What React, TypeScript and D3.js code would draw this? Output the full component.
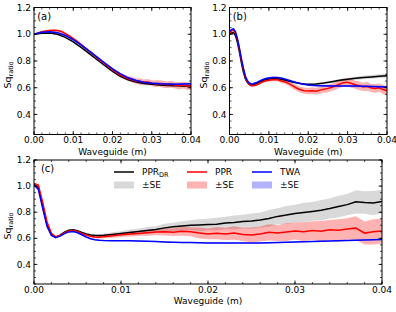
import React from 'react';
import * as d3 from 'd3';

const FONT = 'DejaVu Sans, sans-serif';

// tick labels
const X_TICKS = [0, 0.01, 0.02, 0.03, 0.04];
const Y_TICKS = [0.4, 0.6, 0.8, 1.0, 1.2];

// legend entries
const LEGEND_NAMES = ['PPR', 'PPR', 'TWA'];
const LEGEND_SUBS = ['DR', '', ''];
const SE_LABEL = '\u00b1SE';

// ---- panel (a) ----
const A_X = [0, 0.002, 0.004, 0.006, 0.008, 0.01, 0.012, 0.014, 0.016, 0.018, 0.02, 0.022, 0.024, 0.026, 0.028, 0.03, 0.032, 0.034, 0.036, 0.038, 0.04];
const A_BLACK = [1.0, 1.007, 1.009, 1.0, 0.977, 0.943, 0.902, 0.857, 0.811, 0.766, 0.722, 0.686, 0.66, 0.643, 0.632, 0.625, 0.62, 0.617, 0.615, 0.613, 0.612];
const A_BLACK_SE = [0.002, 0.002, 0.003, 0.003, 0.003, 0.004, 0.004, 0.004, 0.005, 0.005, 0.005, 0.005, 0.006, 0.006, 0.006, 0.006, 0.007, 0.007, 0.007, 0.008, 0.008];
const A_BLUE = [1.0, 1.014, 1.019, 1.012, 0.991, 0.959, 0.92, 0.876, 0.83, 0.785, 0.741, 0.703, 0.674, 0.654, 0.641, 0.634, 0.629, 0.627, 0.626, 0.627, 0.629];
const A_BLUE_SE = [0.006, 0.007, 0.007, 0.008, 0.008, 0.008, 0.009, 0.009, 0.009, 0.009, 0.009, 0.009, 0.008, 0.008, 0.008, 0.008, 0.008, 0.008, 0.008, 0.008, 0.008];
const A_RED_X = [0, 0.001, 0.002, 0.003, 0.004, 0.005, 0.006, 0.007, 0.008, 0.009, 0.01, 0.011, 0.012, 0.013, 0.014, 0.015, 0.016, 0.017, 0.018, 0.019, 0.02, 0.021, 0.022, 0.023, 0.024, 0.025, 0.026, 0.027, 0.028, 0.029, 0.03, 0.031, 0.032, 0.033, 0.034, 0.035, 0.036, 0.037, 0.038, 0.039, 0.04];
const A_RED = [1.0, 1.01, 1.018, 1.024, 1.028, 1.03, 1.028, 1.02, 1.005, 0.988, 0.968, 0.946, 0.922, 0.898, 0.874, 0.85, 0.826, 0.802, 0.78, 0.757, 0.735, 0.713, 0.695, 0.68, 0.668, 0.66, 0.65, 0.646, 0.64, 0.642, 0.634, 0.63, 0.632, 0.625, 0.622, 0.626, 0.618, 0.615, 0.62, 0.612, 0.61];
const A_RED_SE = [0.003, 0.004, 0.005, 0.006, 0.006, 0.007, 0.007, 0.008, 0.008, 0.009, 0.009, 0.01, 0.01, 0.01, 0.011, 0.011, 0.012, 0.012, 0.013, 0.013, 0.014, 0.016, 0.015, 0.019, 0.017, 0.022, 0.019, 0.025, 0.021, 0.024, 0.02, 0.026, 0.023, 0.028, 0.024, 0.027, 0.023, 0.029, 0.025, 0.028, 0.027];

// ---- panel (b) ----
const B_X = [0, 0.0005, 0.001, 0.0015, 0.002, 0.0025, 0.003, 0.0035, 0.004, 0.0045, 0.005, 0.0055, 0.006, 0.007, 0.008, 0.009, 0.01, 0.011, 0.012, 0.013, 0.014, 0.015, 0.016, 0.017, 0.018, 0.019, 0.02, 0.022, 0.024, 0.026, 0.028, 0.03, 0.032, 0.034, 0.036, 0.038, 0.04];
const B_BLACK = [1.0, 1.01, 1.012, 0.99, 0.94, 0.87, 0.79, 0.72, 0.67, 0.64, 0.625, 0.62, 0.622, 0.633, 0.648, 0.66, 0.665, 0.668, 0.667, 0.663, 0.657, 0.65, 0.643, 0.637, 0.632, 0.628, 0.626, 0.628, 0.635, 0.645, 0.655, 0.663, 0.67, 0.676, 0.681, 0.686, 0.69];
const B_BLACK_SE = [0.004, 0.004, 0.004, 0.004, 0.004, 0.004, 0.004, 0.004, 0.004, 0.004, 0.004, 0.004, 0.004, 0.005, 0.005, 0.005, 0.005, 0.005, 0.005, 0.005, 0.005, 0.005, 0.005, 0.005, 0.005, 0.005, 0.006, 0.007, 0.008, 0.009, 0.01, 0.011, 0.012, 0.013, 0.014, 0.015, 0.016];
const B_BLUE = [1.02, 1.035, 1.04, 1.02, 0.97, 0.9, 0.82, 0.75, 0.69, 0.655, 0.635, 0.628, 0.63, 0.64, 0.655, 0.667, 0.673, 0.676, 0.676, 0.672, 0.665, 0.656, 0.647, 0.638, 0.631, 0.625, 0.621, 0.616, 0.614, 0.613, 0.613, 0.613, 0.612, 0.611, 0.609, 0.607, 0.605];
const B_BLUE_SE = [0.008, 0.008, 0.008, 0.008, 0.008, 0.008, 0.008, 0.008, 0.008, 0.008, 0.008, 0.008, 0.008, 0.008, 0.008, 0.008, 0.008, 0.008, 0.008, 0.008, 0.008, 0.008, 0.008, 0.008, 0.008, 0.008, 0.008, 0.008, 0.008, 0.008, 0.008, 0.008, 0.008, 0.008, 0.008, 0.008, 0.008];
const B_RED_X = [0, 0.0005, 0.001, 0.0015, 0.002, 0.0025, 0.003, 0.0035, 0.004, 0.0045, 0.005, 0.0055, 0.006, 0.007, 0.008, 0.009, 0.01, 0.011, 0.012, 0.013, 0.014, 0.015, 0.016, 0.017, 0.018, 0.019, 0.02, 0.021, 0.022, 0.023, 0.024, 0.025, 0.026, 0.027, 0.028, 0.029, 0.03, 0.031, 0.032, 0.033, 0.034, 0.035, 0.036, 0.037, 0.038, 0.039, 0.04];
const B_RED = [1.01, 1.025, 1.03, 1.01, 0.96, 0.89, 0.81, 0.74, 0.68, 0.645, 0.625, 0.615, 0.615, 0.622, 0.638, 0.65, 0.656, 0.66, 0.661, 0.652, 0.645, 0.632, 0.615, 0.598, 0.585, 0.578, 0.575, 0.578, 0.574, 0.582, 0.588, 0.595, 0.603, 0.615, 0.628, 0.638, 0.64, 0.632, 0.622, 0.614, 0.606, 0.61, 0.598, 0.594, 0.6, 0.586, 0.578];
const B_RED_SE = [0.006, 0.006, 0.006, 0.006, 0.006, 0.006, 0.006, 0.006, 0.006, 0.006, 0.006, 0.006, 0.006, 0.008, 0.009, 0.01, 0.011, 0.012, 0.013, 0.014, 0.016, 0.018, 0.02, 0.021, 0.022, 0.024, 0.023, 0.026, 0.025, 0.028, 0.026, 0.029, 0.027, 0.03, 0.028, 0.031, 0.029, 0.032, 0.03, 0.033, 0.031, 0.034, 0.03, 0.033, 0.031, 0.034, 0.032];

// ---- panel (c) ----
const C_X = [0, 0.0005, 0.001, 0.0015, 0.002, 0.0025, 0.003, 0.0035, 0.004, 0.0045, 0.005, 0.0055, 0.006, 0.0065, 0.007, 0.0075, 0.008, 0.009, 0.01, 0.011, 0.012, 0.013, 0.014, 0.015, 0.016, 0.017, 0.018, 0.019, 0.02, 0.021, 0.022, 0.023, 0.024, 0.025, 0.026, 0.027, 0.028, 0.029, 0.03, 0.031, 0.032, 0.033, 0.034, 0.035, 0.036, 0.037, 0.038, 0.039, 0.04];
const C_BLACK = [1.012, 0.99, 0.845, 0.705, 0.628, 0.608, 0.624, 0.647, 0.662, 0.666, 0.658, 0.645, 0.634, 0.626, 0.622, 0.621, 0.623, 0.63, 0.637, 0.645, 0.652, 0.66, 0.668, 0.68, 0.688, 0.694, 0.7, 0.702, 0.705, 0.708, 0.718, 0.721, 0.728, 0.732, 0.74, 0.752, 0.768, 0.778, 0.79, 0.798, 0.806, 0.815, 0.828, 0.843, 0.858, 0.88, 0.874, 0.87, 0.882];
const C_BLACK_SE = [0.004, 0.004, 0.004, 0.004, 0.004, 0.004, 0.004, 0.004, 0.005, 0.005, 0.006, 0.007, 0.008, 0.009, 0.01, 0.011, 0.012, 0.016, 0.018, 0.022, 0.021, 0.026, 0.025, 0.031, 0.032, 0.037, 0.039, 0.045, 0.044, 0.049, 0.048, 0.054, 0.053, 0.059, 0.058, 0.064, 0.063, 0.069, 0.068, 0.074, 0.072, 0.079, 0.077, 0.084, 0.081, 0.089, 0.086, 0.093, 0.09];
const C_BLUE = [1.01, 0.975, 0.83, 0.69, 0.622, 0.605, 0.617, 0.636, 0.649, 0.652, 0.643, 0.627, 0.61, 0.597, 0.589, 0.585, 0.583, 0.582, 0.582, 0.582, 0.58, 0.578, 0.575, 0.572, 0.57, 0.568, 0.567, 0.566, 0.565, 0.565, 0.564, 0.564, 0.564, 0.564, 0.565, 0.566, 0.567, 0.569, 0.571, 0.573, 0.575, 0.577, 0.579, 0.581, 0.583, 0.585, 0.587, 0.589, 0.591];
const C_BLUE_SE = [0.004, 0.004, 0.004, 0.004, 0.004, 0.004, 0.004, 0.004, 0.004, 0.004, 0.004, 0.004, 0.004, 0.004, 0.004, 0.004, 0.004, 0.004, 0.004, 0.004, 0.004, 0.004, 0.004, 0.004, 0.004, 0.004, 0.004, 0.004, 0.004, 0.004, 0.004, 0.004, 0.004, 0.004, 0.004, 0.004, 0.004, 0.004, 0.004, 0.004, 0.004, 0.004, 0.004, 0.004, 0.004, 0.004, 0.004, 0.004, 0.004];
const C_RED = [1.02, 1.008, 0.875, 0.725, 0.638, 0.612, 0.622, 0.642, 0.656, 0.66, 0.652, 0.638, 0.625, 0.615, 0.61, 0.609, 0.612, 0.62, 0.627, 0.633, 0.637, 0.643, 0.648, 0.651, 0.647, 0.655, 0.65, 0.64, 0.634, 0.639, 0.634, 0.641, 0.63, 0.625, 0.633, 0.646, 0.64, 0.648, 0.656, 0.65, 0.66, 0.654, 0.665, 0.661, 0.672, 0.678, 0.64, 0.65, 0.656];
const C_RED_SE = [0.005, 0.005, 0.005, 0.005, 0.005, 0.005, 0.005, 0.005, 0.005, 0.005, 0.006, 0.007, 0.008, 0.009, 0.01, 0.011, 0.012, 0.015, 0.016, 0.02, 0.019, 0.024, 0.024, 0.03, 0.029, 0.035, 0.035, 0.042, 0.041, 0.047, 0.046, 0.052, 0.051, 0.058, 0.057, 0.062, 0.061, 0.068, 0.066, 0.073, 0.071, 0.079, 0.076, 0.085, 0.082, 0.091, 0.088, 0.097, 0.096];

type Series = { x: number[]; y: number[]; se: number[]; color: string; band: string };

const BLACK = '#000000';
const RED = '#ff0000';
const BLUE = '#0000ff';
const GRAY_BAND = 'rgba(128,128,128,0.3)';
const RED_BAND = 'rgba(255,0,0,0.3)';
const BLUE_BAND = 'rgba(0,0,255,0.3)';

type Box = { l: number; r: number; t: number; b: number };

function Panel({ box, series, tag, id }: { box: Box; series: Series[]; tag: string; id: string }) {
  const x = d3.scaleLinear().domain([0, 0.04]).range([box.l, box.r]);
  const y = d3.scaleLinear().domain([0.25, 1.2]).range([box.b, box.t]);

  const line = (s: Series) =>
    d3.line<number>().x((_, i) => x(s.x[i])).y((v) => y(v))(s.y) || '';
  const area = (s: Series) =>
    d3
      .area<number>()
      .x((_, i) => x(s.x[i]))
      .y0((v, i) => y(v - s.se[i]))
      .y1((v, i) => y(v + s.se[i]))(s.y) || '';

  const xMinor = d3.range(0, 0.0401, 0.002);
  const yMinor = d3.range(0.25, 1.201, 0.05);
  const fmtX = d3.format('.2f');
  const fmtY = d3.format('.1f');
  const w = box.r - box.l;
  const h = box.b - box.t;
  const midY = (box.t + box.b) / 2 + 4;

  return (
    <g>
      <defs>
        <clipPath id={id}>
          <rect x={box.l} y={box.t} width={w} height={h} />
        </clipPath>
      </defs>
      <g clipPath={`url(#${id})`}>
        {series.map((s, i) => (
          <path key={'b' + i} d={area(s)} fill={s.band} stroke="none" />
        ))}
        {series.map((s, i) => (
          <path key={'l' + i} d={line(s)} fill="none" stroke={s.color} strokeWidth={1.5} />
        ))}
      </g>
      <rect x={box.l} y={box.t} width={w} height={h} fill="none" stroke="#000" strokeWidth={1} />
      {/* minor ticks, inward on all sides */}
      {xMinor.map((v, i) => (
        <g key={'xm' + i} stroke="#000" strokeWidth={0.7}>
          <line x1={x(v)} x2={x(v)} y1={box.b} y2={box.b - 2} />
          <line x1={x(v)} x2={x(v)} y1={box.t} y2={box.t + 2} />
        </g>
      ))}
      {yMinor.map((v, i) => (
        <g key={'ym' + i} stroke="#000" strokeWidth={0.7}>
          <line x1={box.l} x2={box.l + 2} y1={y(v)} y2={y(v)} />
          <line x1={box.r} x2={box.r - 2} y1={y(v)} y2={y(v)} />
        </g>
      ))}
      {X_TICKS.map((v) => (
        <g key={'xt' + v}>
          <line x1={x(v)} x2={x(v)} y1={box.b} y2={box.b - 3.5} stroke="#000" strokeWidth={0.8} />
          <line x1={x(v)} x2={x(v)} y1={box.t} y2={box.t + 3.5} stroke="#000" strokeWidth={0.8} />
          <text x={x(v)} y={box.b + 8.5} textAnchor="middle" fontSize={9} fontFamily={FONT}>
            {fmtX(v)}
          </text>
        </g>
      ))}
      {Y_TICKS.map((v) => (
        <g key={'yt' + v}>
          <line x1={box.l} x2={box.l + 3.5} y1={y(v)} y2={y(v)} stroke="#000" strokeWidth={0.8} />
          <line x1={box.r} x2={box.r - 3.5} y1={y(v)} y2={y(v)} stroke="#000" strokeWidth={0.8} />
          <text x={box.l - 3} y={y(v)} dy="0.35em" textAnchor="end" fontSize={9} fontFamily={FONT}>
            {fmtY(v)}
          </text>
        </g>
      ))}
      <text x={(box.l + box.r) / 2} y={box.b + 20} textAnchor="middle" fontSize={9} fontFamily={FONT}>
        Waveguide (m)
      </text>
      <text transform={`translate(${box.l - 23},${midY}) rotate(-90)`} textAnchor="middle" fontSize={9.5} fontFamily={FONT}>
        Sq<tspan fontSize={6.5} dy={2}>ratio</tspan>
      </text>
      <text x={box.l + 0.02 * w} y={box.t + 0.1 * h} fontSize={10} fontFamily={FONT}>
        {tag}
      </text>
    </g>
  );
}

function Legend() {
  const colX = d3.scaleOrdinal<number, number>().domain([0, 1, 2]).range([114, 187, 252]);
  const lineColors = [BLACK, RED, BLUE];
  const bandColors = [GRAY_BAND, RED_BAND, BLUE_BAND];
  const row1 = 172;
  const row2 = 185;
  return (
    <g fontFamily={FONT} fontSize={9}>
      {[0, 1, 2].map((i) => (
        <g key={i}>
          <line x1={colX(i)} x2={colX(i) + 20} y1={row1} y2={row1} stroke={lineColors[i]} strokeWidth={1.5} />
          <text x={colX(i) + 28} y={row1} dy="0.35em">
            {LEGEND_NAMES[i]}
            {LEGEND_SUBS[i] ? (
              <tspan fontSize={6.5} dy={2}>
                {LEGEND_SUBS[i]}
              </tspan>
            ) : null}
          </text>
          <rect x={colX(i)} y={row2 - 3.5} width={20} height={7} fill={bandColors[i]} />
          <text x={colX(i) + 28} y={row2} dy="0.35em">
            {SE_LABEL}
          </text>
        </g>
      ))}
    </g>
  );
}

export default function App() {
  const seriesA: Series[] = [
    { x: A_X, y: A_BLACK, se: A_BLACK_SE, color: BLACK, band: GRAY_BAND },
    { x: A_RED_X, y: A_RED, se: A_RED_SE, color: RED, band: RED_BAND },
    { x: A_X, y: A_BLUE, se: A_BLUE_SE, color: BLUE, band: BLUE_BAND },
  ];
  const seriesB: Series[] = [
    { x: B_X, y: B_BLACK, se: B_BLACK_SE, color: BLACK, band: GRAY_BAND },
    { x: B_RED_X, y: B_RED, se: B_RED_SE, color: RED, band: RED_BAND },
    { x: B_X, y: B_BLUE, se: B_BLUE_SE, color: BLUE, band: BLUE_BAND },
  ];
  const seriesC: Series[] = [
    { x: C_X, y: C_BLACK, se: C_BLACK_SE, color: BLACK, band: GRAY_BAND },
    { x: C_X, y: C_RED, se: C_RED_SE, color: RED, band: RED_BAND },
    { x: C_X, y: C_BLUE, se: C_BLUE_SE, color: BLUE, band: BLUE_BAND },
  ];

  return (
    <svg width={396} height={312} style={{ position: 'absolute', left: 0, top: 0, background: '#fff' }}>
      <rect width={396} height={312} fill="#fff" />
      <Panel id="clipA" box={{ l: 34, r: 191, t: 7.5, b: 134.5 }} series={seriesA} tag="(a)" />
      <Panel id="clipB" box={{ l: 229.5, r: 387, t: 7.5, b: 134.5 }} series={seriesB} tag="(b)" />
      <Panel id="clipC" box={{ l: 34, r: 382, t: 160, b: 284 }} series={seriesC} tag="(c)" />
      <Legend />
    </svg>
  );
}
